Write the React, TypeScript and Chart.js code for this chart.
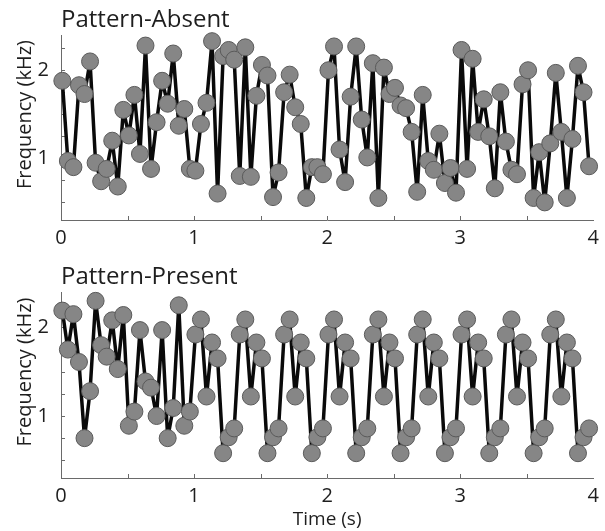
import { useEffect, useRef } from 'react';
import { Chart, registerables } from 'chart.js';

Chart.register(...registerables);

// ---------- data ----------
const TONE_STEP = 1 / 24; // seconds between successive tones
const TIME_OFFSET = 0.01;

const absentValues = [
  1.88, 0.97, 0.90, 1.83, 1.73, 2.10, 0.95, 0.74, 0.88, 1.20, 0.68, 1.55,
  1.26, 1.72, 1.05, 2.28, 0.88, 1.41, 1.88, 1.62, 2.19, 1.37, 1.56, 0.88,
  0.86, 1.39, 1.63, 2.33, 0.60, 2.16, 2.23, 2.12, 0.80, 2.26, 0.79, 1.71,
  2.06, 1.94, 0.56, 0.84, 1.75, 1.95, 1.58, 1.39, 0.55, 0.90, 0.90, 0.82,
  2.00, 2.27, 1.10, 0.73, 1.70, 2.27, 1.44, 1.01, 2.08, 0.55, 2.03, 1.73,
  1.80, 1.60, 1.57, 1.30, 0.62, 1.72, 0.97, 0.87, 1.28, 0.72, 0.89, 0.61,
  2.23, 0.88, 2.13, 1.30, 1.67, 1.25, 0.66, 1.75, 1.19, 0.87, 0.82, 1.84,
  2.00, 0.55, 1.07, 0.50, 1.17, 1.97, 1.30, 0.55, 1.22, 2.05, 1.75, 0.91,
];

const presentValues = [
  2.19, 1.75, 2.15, 1.61, 0.75, 1.28, 2.30, 1.80, 1.67, 2.08, 1.53, 2.14,
  0.89, 1.05, 1.97, 1.39, 1.32, 1.00, 1.97, 0.75, 1.09, 2.25, 0.89, 1.05,
  1.92, 2.09, 1.22, 1.83, 1.65, 0.58, 0.76, 0.86, 1.92, 2.09, 1.22, 1.83,
  1.65, 0.58, 0.76, 0.86, 1.92, 2.09, 1.22, 1.83, 1.65, 0.58, 0.76, 0.86,
  1.92, 2.09, 1.22, 1.83, 1.65, 0.58, 0.76, 0.86, 1.92, 2.09, 1.22, 1.83,
  1.65, 0.58, 0.76, 0.86, 1.92, 2.09, 1.22, 1.83, 1.65, 0.58, 0.76, 0.86,
  1.92, 2.09, 1.22, 1.83, 1.65, 0.58, 0.76, 0.86, 1.92, 2.09, 1.22, 1.83,
  1.65, 0.58, 0.76, 0.86, 1.92, 2.09, 1.22, 1.83, 1.65, 0.58, 0.76, 0.86,
];

const xTickLabels = [0, 1, 2, 3, 4];
const yTickLabels = [1, 2];
const xTickMarks = [0.5, 1, 1.5, 2, 2.5, 3, 3.5];
const yTickMarks = [0.5, 0.75, 1, 1.25, 1.5, 1.75, 2, 2.25];
const panelTitles = ['Pattern-Absent', 'Pattern-Present'];
const yAxisTitle = 'Frequency (kHz)';
const xAxisTitle = 'Time (s)';

// ---------- style ----------
const FONT = '"Open Sans", "DejaVu Sans", sans-serif';
const TEXT_COLOR = '#1e1e1e';
const AXIS_COLOR = '#6a6a6a';
const LINE_COLOR = '#0a0a0a';
const POINT_FILL = '#868686';
const POINT_EDGE = '#5a5a5a';

function toPoints(values: number[]) {
  return values.map((v, i) => ({ x: i * TONE_STEP + TIME_OFFSET, y: v }));
}

function decorPlugin(title: string) {
  return {
    id: 'panelDecor',
    beforeDatasetsDraw(chart: any) {
      const { ctx, chartArea, scales } = chart;
      ctx.save();
      ctx.strokeStyle = AXIS_COLOR;
      ctx.lineWidth = 1;
      ctx.beginPath();
      for (const v of xTickMarks) {
        const px = Math.round(scales.x.getPixelForValue(v)) + 0.5;
        ctx.moveTo(px, chartArea.bottom);
        ctx.lineTo(px, chartArea.bottom - 4);
      }
      for (const v of yTickMarks) {
        const py = Math.round(scales.y.getPixelForValue(v)) + 0.5;
        ctx.moveTo(chartArea.left, py);
        ctx.lineTo(chartArea.left + 4, py);
      }
      ctx.stroke();
      ctx.restore();
    },
    afterDraw(chart: any) {
      const { ctx, chartArea } = chart;
      ctx.save();
      ctx.fillStyle = TEXT_COLOR;
      ctx.font = `24px ${FONT}`;
      ctx.textAlign = 'left';
      ctx.textBaseline = 'alphabetic';
      ctx.fillText(title, chartArea.left, chartArea.top - 8);
      ctx.translate(31, (chartArea.top + chartArea.bottom) / 2 - 13);
      ctx.rotate(-Math.PI / 2);
      ctx.font = `20px ${FONT}`;
      ctx.textAlign = 'center';
      ctx.fillText(yAxisTitle, 0, 0);
      ctx.restore();
    },
  };
}

function makeConfig(values: number[], title: string, xHeight: number, showXTitle: boolean): any {
  return {
    type: 'line',
    data: {
      datasets: [
        {
          data: toPoints(values),
          borderColor: LINE_COLOR,
          borderWidth: 3.5,
          borderJoinStyle: 'round',
          borderCapStyle: 'round',
          pointRadius: 8.5,
          pointBackgroundColor: POINT_FILL,
          pointBorderColor: POINT_EDGE,
          pointBorderWidth: 1,
          tension: 0,
          clip: false,
        },
      ],
    },
    options: {
      responsive: false,
      animation: false,
      events: [],
      layout: { padding: { top: 35, right: 5, left: 0, bottom: 0 } },
      plugins: { legend: { display: false }, tooltip: { enabled: false }, title: { display: false } },
      scales: {
        x: {
          type: 'linear',
          min: 0,
          max: 4,
          afterBuildTicks: (s: any) => {
            s.ticks = xTickLabels.map((v) => ({ value: v }));
          },
          afterFit: (s: any) => {
            s.height = xHeight;
          },
          grid: { display: false, drawTicks: false },
          border: { display: true, color: AXIS_COLOR, width: 1 },
          ticks: {
            color: TEXT_COLOR,
            font: { family: FONT, size: 20 },
            padding: 6,
            maxRotation: 0,
            autoSkip: false,
          },
          title: {
            display: showXTitle,
            text: xAxisTitle,
            color: TEXT_COLOR,
            font: { family: FONT, size: 19, lineHeight: 1 },
            padding: { top: 0, bottom: 2 },
          },
        },
        y: {
          type: 'linear',
          min: 0.3,
          max: 2.4,
          afterBuildTicks: (s: any) => {
            s.ticks = yTickLabels.map((v) => ({ value: v }));
          },
          afterFit: (s: any) => {
            s.width = 61;
          },
          grid: { display: false, drawTicks: false },
          border: { display: true, color: AXIS_COLOR, width: 1 },
          ticks: {
            color: TEXT_COLOR,
            font: { family: FONT, size: 20 },
            padding: 12,
          },
        },
      },
    },
    plugins: [decorPlugin(title)],
  };
}

export default function App() {
  const topRef = useRef<HTMLCanvasElement | null>(null);
  const bottomRef = useRef<HTMLCanvasElement | null>(null);

  useEffect(() => {
    const charts: Chart[] = [];
    if (topRef.current) {
      charts.push(new Chart(topRef.current, makeConfig(absentValues, panelTitles[0], 37, false)));
    }
    if (bottomRef.current) {
      charts.push(new Chart(bottomRef.current, makeConfig(presentValues, panelTitles[1], 53, true)));
    }
    return () => charts.forEach((c) => c.destroy());
  }, []);

  return (
    <div style={{ position: 'absolute', left: 0, top: 0, width: 605, height: 531, background: '#fff' }}>
      <canvas ref={topRef} width={605} height={257} style={{ position: 'absolute', left: 0, top: 0 }} />
      <canvas ref={bottomRef} width={605} height={274} style={{ position: 'absolute', left: 0, top: 257 }} />
    </div>
  );
}
